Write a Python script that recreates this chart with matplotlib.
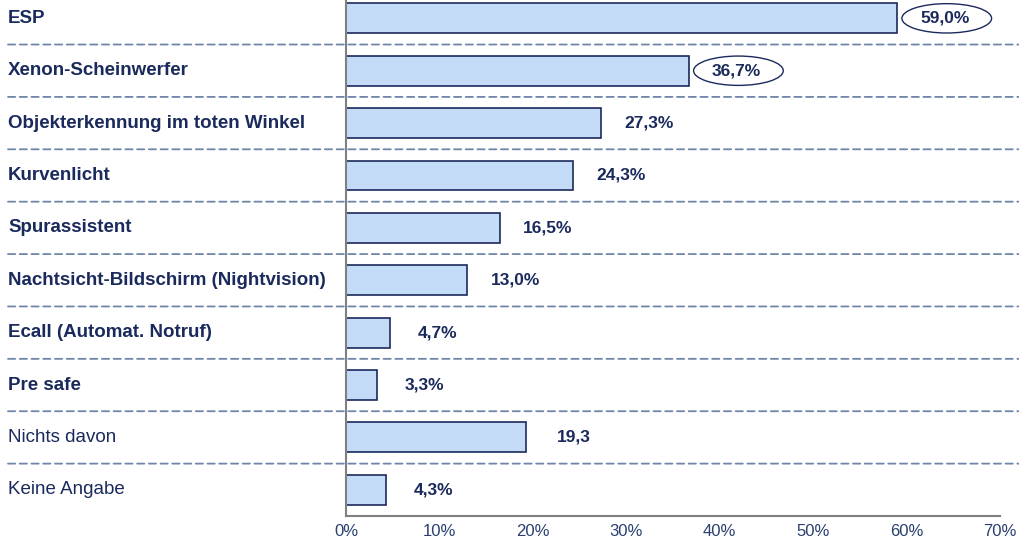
import matplotlib.pyplot as plt
from matplotlib.patches import Ellipse

categories = ['ESP', 'Xenon-Scheinwerfer', 'Objekterkennung im toten Winkel',
              'Kurvenlicht', 'Spurassistent', 'Nachtsicht-Bildschirm (Nightvision)',
              'Ecall (Automat. Notruf)', 'Pre safe', 'Nichts davon', 'Keine Angabe']
values = [59.0, 36.7, 27.3, 24.3, 16.5, 13.0, 4.7, 3.3, 19.3, 4.3]
value_labels = ['59,0%', '36,7%', '27,3%', '24,3%', '16,5%', '13,0%',
                '4,7%', '3,3%', '19,3', '4,3%']
bold_rows = [True] * 8 + [False] * 2
circled = [True, True] + [False] * 8
ticks = [0, 10, 20, 30, 40, 50, 60, 70]

navy = '#1b2a5c'
plt.rcParams['font.family'] = ['Liberation Sans', 'DejaVu Sans']

fig = plt.figure(figsize=(10.19, 5.46), dpi=100)
ax = fig.add_axes([346 / 1019, 30 / 546, (1000 - 346) / 1019, 516 / 546])

n = len(categories)
ypos = list(range(n))
ax.barh(ypos, values, height=0.57, color='#c3dbf7', edgecolor=navy, linewidth=1.2)

ax.set_xlim(0, 70)
ax.set_ylim(n - 0.5, -0.35)

# value labels, the two top ones circled
for i, (v, lab) in enumerate(zip(values, value_labels)):
    if circled[i]:
        ax.add_patch(Ellipse((v + 5.3, i), 9.6, 0.56, fc='white', ec=navy, lw=1, zorder=3))
    ax.text(v + 5.1, i, lab, ha='center', va='center', fontsize=12.5,
            fontweight='bold', color=navy, zorder=4)

# category names at the left edge of the figure
for i, cat in enumerate(categories):
    ax.annotate(cat, xy=(8 / 1019, i), xycoords=('figure fraction', 'data'),
                ha='left', va='center', fontsize=13.5,
                fontweight='bold' if bold_rows[i] else 'normal', color=navy,
                annotation_clip=False)

# dashed separators across the whole width
for i in range(n - 1):
    ax.annotate('', xy=(1.0, i + 0.5), xytext=(8 / 1019, i + 0.5),
                xycoords=('figure fraction', 'data'), textcoords=('figure fraction', 'data'),
                arrowprops=dict(arrowstyle='-', color='#6f86a8', lw=1.3,
                                linestyle=(0, (4, 2.5)), shrinkA=0, shrinkB=0),
                annotation_clip=False)

for s in ['top', 'right']:
    ax.spines[s].set_visible(False)
for s in ['left', 'bottom']:
    ax.spines[s].set_color('#808080')
    ax.spines[s].set_linewidth(1.5)

ax.set_yticks([])
ax.set_xticks(ticks)
ax.set_xticklabels([f'{t}%' for t in ticks], fontsize=12, color='#2a3f6e')
ax.tick_params(axis='x', length=0, pad=6)

fig.savefig('out.png', dpi=100)
